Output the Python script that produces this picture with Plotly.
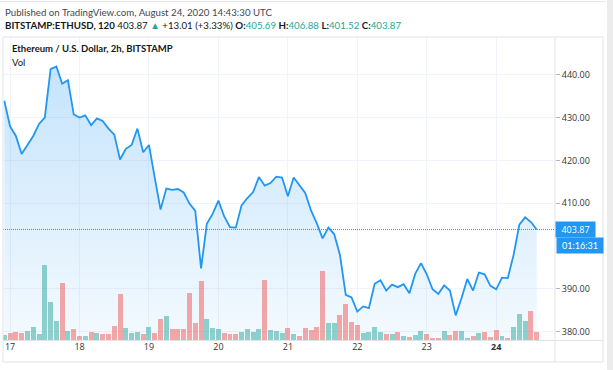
import plotly.graph_objects as go
import pandas as pd

# ---------------- data ----------------
start_time = "2020-08-16 22:00"
bar_hours = 2
close = [433.9, 427.9, 425.7, 421.5, 423.6, 425.7, 428.5, 430.0, 441.3, 441.9,
         437.9, 438.7, 430.7, 430.0, 430.5, 428.2, 429.8, 429.2, 427.4, 426.0,
         420.2, 422.7, 423.6, 427.4, 421.9, 423.6, 415.9, 408.5, 413.4, 413.1,
         413.3, 412.5, 409.9, 408.2, 394.8, 405.2, 407.5, 410.6, 406.9, 404.4,
         404.3, 409.5, 411.2, 412.6, 416.1, 414.1, 414.7, 416.2, 416.0, 411.6,
         416.0, 414.1, 412.4, 408.3, 405.3, 401.8, 404.3, 402.8, 397.9, 388.6,
         388.0, 384.7, 385.9, 385.5, 391.2, 392.0, 389.6, 391.0, 390.4, 391.1,
         389.0, 393.5, 396.0, 393.4, 389.9, 388.8, 390.8, 389.6, 383.8, 387.8,
         392.3, 389.6, 393.8, 393.4, 390.7, 389.9, 392.6, 392.5, 397.9, 405.0,
         406.7, 405.6, 403.87]
volume = [15, 21, 24, 20, 27, 39, 18, 225, 113, 57,
          171, 27, 34, 13, 11, 24, 20, 18, 18, 41,
          138, 36, 22, 24, 18, 39, 22, 64, 73, 34,
          32, 32, 142, 51, 177, 62, 36, 32, 20, 18,
          18, 23, 32, 24, 32, 180, 30, 26, 20, 36,
          18, 11, 36, 30, 39, 205, 50, 50, 75, 108,
          53, 45, 20, 23, 39, 23, 18, 18, 23, 13,
          9, 15, 27, 18, 7, 7, 27, 15, 27, 27,
          7, 11, 22, 23, 9, 30, 11, 7, 39, 78,
          57, 87, 24]
# 1 = up bar (teal), 0 = down bar (red)
up = [1, 0, 0, 0, 1, 1, 1, 1, 1, 1,
      0, 1, 0, 0, 1, 0, 1, 0, 0, 0,
      0, 1, 1, 1, 0, 1, 0, 0, 1, 0,
      0, 0, 0, 0, 0, 1, 1, 1, 0, 0,
      0, 1, 1, 1, 1, 0, 1, 1, 1, 0,
      1, 0, 0, 0, 0, 0, 1, 1, 0, 0,
      0, 0, 1, 1, 1, 1, 0, 1, 0, 1,
      0, 1, 1, 0, 0, 0, 1, 0, 0, 1,
      1, 0, 1, 0, 0, 0, 1, 0, 1, 1,
      1, 0, 0]
day_ticks = ["2020-08-17", "2020-08-18", "2020-08-19", "2020-08-20",
             "2020-08-21", "2020-08-22", "2020-08-23", "2020-08-24"]
day_labels = ["17", "18", "19", "20", "21", "22", "23", "<b>24</b>"]
price_ticks = [380, 390, 410, 420, 430, 440]
last_price = 403.87
timer_text = "01:16:31"

times = pd.date_range(start_time, periods=len(close), freq=f"{bar_hours}h")

# ---------------- layout helpers ----------------
W, H = 613, 370
L, R, T, B = 3, 555, 37, 340
PW, PH = R - L, B - T


def px(x):
    return (x - L) / PW


def py(y):
    return (B - y) / PH


BLUE = "#2196f3"
TEAL = "#26a69a"
GRID = "#f0f3fa"
FRAME = "#e0e3eb"
TXT = "#434651"
HFONT = "Lato"
HSIZE = 9.7
TSIZE = 9.5

bar_colors = ["rgba(38,166,154,0.5)" if u else "rgba(239,83,80,0.5)" for u in up]

fig = go.Figure()
fig.add_trace(go.Scatter(
    x=times, y=close, mode="lines", fill="tozeroy",
    line=dict(color=BLUE, width=1.8),
    fillgradient=dict(type="vertical", start=378, stop=442,
                      colorscale=[[0, "rgba(33,150,243,0.05)"],
                                  [1, "rgba(33,150,243,0.26)"]]),
    hoverinfo="skip", showlegend=False, yaxis="y"))
fig.add_trace(go.Bar(
    x=times, y=volume, marker=dict(color=bar_colors, line=dict(width=0)),
    width=bar_hours * 3600 * 1000 * 0.86, yaxis="y2", showlegend=False,
    hoverinfo="skip"))

t0 = times[0]
step = pd.Timedelta(hours=bar_hours)
x_start = t0 - step * 0.225
x_end = t0 + step * 95.16

fig.update_layout(
    width=W, height=H,
    margin=dict(l=L, r=W - R, t=T, b=H - B, pad=0, autoexpand=False),
    paper_bgcolor="white", plot_bgcolor="white",
    font=dict(family="Open Sans", size=9, color=TXT),
    bargap=0,
    xaxis=dict(range=[x_start, x_end], tickvals=day_ticks, ticktext=day_labels,
               showgrid=True, gridcolor=GRID, gridwidth=1, zeroline=False,
               ticks="", tickfont=dict(size=9, color="#333"), showline=False,
               automargin=False, fixedrange=True),
    yaxis=dict(range=[378.06, 448.8], side="right", tickvals=price_ticks,
               ticktext=[f"{v:.2f}" for v in price_ticks],
               showgrid=True, gridcolor=GRID, zeroline=False,
               ticks="outside", ticklen=4, tickcolor="#b2b5be",
               tickfont=dict(size=9, color="#333"), showline=False,
               automargin=False),
    yaxis2=dict(range=[0, max(volume) * 906 / 225], overlaying="y",
                visible=False, automargin=False),
)

shapes = [
    # dotted last-price line
    dict(type="line", xref="paper", yref="y", x0=0, x1=1, y0=last_price,
         y1=last_price, line=dict(color=BLUE, width=1, dash="1px,1px")),
    # widget frame
    dict(type="rect", xref="paper", yref="paper", x0=px(3), x1=px(603),
         y0=py(362), y1=py(37), line=dict(color=FRAME, width=1)),
    dict(type="line", xref="paper", yref="paper", x0=px(555), x1=px(555),
         y0=py(362), y1=py(37), line=dict(color=FRAME, width=1)),
    dict(type="line", xref="paper", yref="paper", x0=px(3), x1=px(603),
         y0=py(340.5), y1=py(340.5), line=dict(color=FRAME, width=1)),
    # top rule and right strip
    dict(type="line", xref="paper", yref="paper", x0=px(0), x1=px(606),
         y0=py(1.5), y1=py(1.5), line=dict(color="#e6e6e6", width=1)),
    dict(type="rect", xref="paper", yref="paper", x0=px(607), x1=px(613),
         y0=py(370), y1=py(0), line=dict(width=0), fillcolor="#ececec"),
]
fig.update_layout(shapes=shapes)

ann = []
ann.append(dict(xref="paper", yref="paper", x=px(3), y=py(12), xanchor="left",
                yanchor="middle", showarrow=False,
                text="Published on TradingView.com, August 24, 2020 14:43:30 UTC",
                font=dict(family=HFONT, size=HSIZE, color=TXT)))
hdr = ("<b>BITSTAMP:ETHUSD, 120</b> 403.87 "
       f"<span style='color:{TEAL}'>▲</span> +13.01 (+3.33%) "
       f"<b>O:</b><span style='color:{TEAL}'>405.69</span> "
       f"<b>H:</b><span style='color:{TEAL}'>406.88</span> "
       f"<b>L:</b><span style='color:{TEAL}'>401.52</span> "
       f"<b>C:</b><span style='color:{TEAL}'>403.87</span>")
ann.append(dict(xref="paper", yref="paper", x=px(3), y=py(25), xanchor="left",
                yanchor="middle", showarrow=False, text=hdr,
                font=dict(family=HFONT, size=HSIZE, color="#131722")))
ann.append(dict(xref="paper", yref="paper", x=px(10), y=py(48), xanchor="left",
                yanchor="middle", showarrow=False,
                text="<b>Ethereum / U.S. Dollar, 2h, BITSTAMP</b>",
                font=dict(family=HFONT, size=TSIZE, color="#131722")))
ann.append(dict(xref="paper", yref="paper", x=px(10), y=py(62), xanchor="left",
                yanchor="middle", showarrow=False, text="Vol",
                font=dict(family=HFONT, size=TSIZE, color="#131722")))
ann.append(dict(xref="paper", yref="y", x=px(555), y=last_price, xanchor="left",
                yanchor="middle", showarrow=False, text=f"{last_price:.2f}",
                bgcolor=BLUE, width=35, height=11, borderpad=2,
                font=dict(size=9, color="white")))
ann.append(dict(xref="paper", yref="paper", x=px(556), y=py(245.5),
                xanchor="left", yanchor="middle", showarrow=False,
                text=timer_text, bgcolor=BLUE, width=42, height=11,
                borderpad=2, font=dict(family=HFONT, size=9, color="white")))
fig.update_layout(annotations=ann)

fig.write_html("out.html",
               config={"displayModeBar": False},
               post_script="document.body.style.margin='0';"
                           "document.body.style.overflow='hidden';")
